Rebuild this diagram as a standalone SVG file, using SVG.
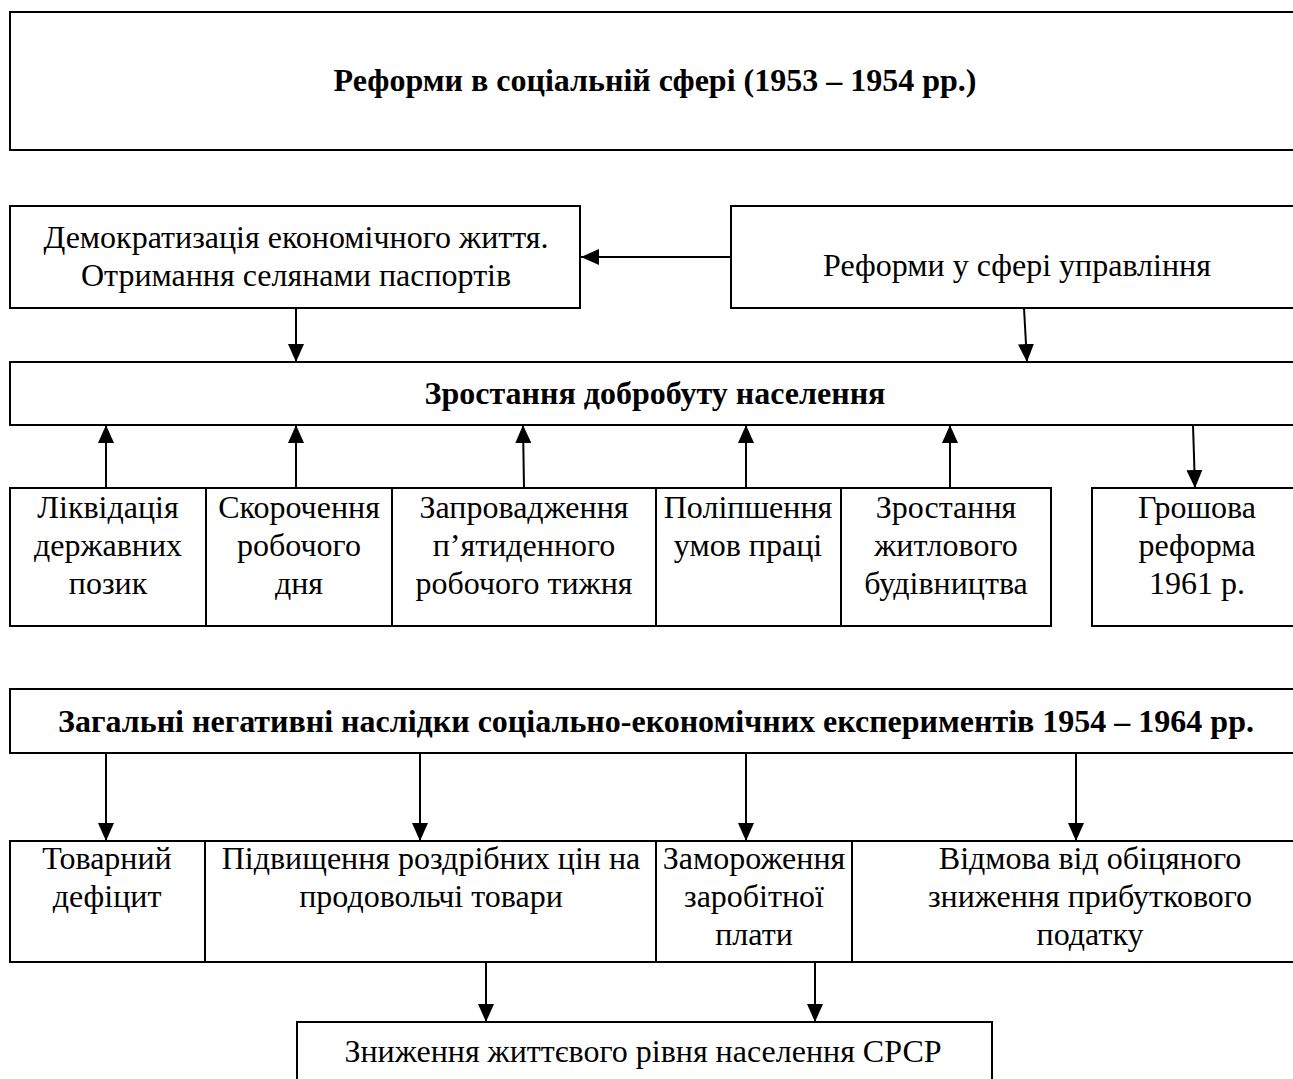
<svg xmlns="http://www.w3.org/2000/svg" width="1293" height="1079" viewBox="0 0 1293 1079">
<style>
  .box { fill: #fff; stroke: #000; stroke-width: 2; }
  .t { font-family: "Liberation Serif", "Times New Roman", serif; font-size: 32px; fill: #000; text-anchor: middle; }
  .b { font-weight: bold; }
  .c { stroke: #000; stroke-width: 2; fill: none; marker-end: url(#ah); }
</style>
<defs>
  <marker id="ah" markerUnits="userSpaceOnUse" markerWidth="18" markerHeight="16" refX="18" refY="8" orient="auto">
    <path d="M0,0 L18,8 L0,16 z" fill="#000"/>
  </marker>
</defs>
<rect width="1293" height="1079" fill="#fff"/>

<g id="n-title">
  <rect class="box" x="10" y="12" width="1300" height="138"/>
  <text class="t b" x="655" y="91">Реформи в соціальній сфері (1953 – 1954 рр.)</text>
</g>
<g id="n-democr">
  <rect class="box" x="10" y="206" width="570" height="102"/>
  <text class="t" x="296" y="248">Демократизація економічного життя.</text>
  <text class="t" x="296" y="286">Отримання селянами паспортів</text>
</g>
<g id="n-upr">
  <rect class="box" x="731" y="206" width="580" height="102"/>
  <text class="t" x="1017" y="276">Реформи у сфері управління</text>
</g>
<g id="n-dobro">
  <rect class="box" x="10" y="362" width="1300" height="63"/>
  <text class="t b" x="655" y="404">Зростання добробуту населення</text>
</g>
<g id="n-likv">
  <rect class="box" x="10" y="488" width="196" height="138"/>
  <text class="t" x="108" y="518">Ліквідація</text>
  <text class="t" x="108" y="556">державних</text>
  <text class="t" x="108" y="594">позик</text>
</g>
<g id="n-skor">
  <rect class="box" x="206" y="488" width="186" height="138"/>
  <text class="t" x="299" y="518">Скорочення</text>
  <text class="t" x="299" y="556">робочого</text>
  <text class="t" x="299" y="594">дня</text>
</g>
<g id="n-zapr">
  <rect class="box" x="392" y="488" width="264" height="138"/>
  <text class="t" x="524" y="518">Запровадження</text>
  <text class="t" x="524" y="556">п’ятиденного</text>
  <text class="t" x="524" y="594">робочого тижня</text>
</g>
<g id="n-polip">
  <rect class="box" x="656" y="488" width="185" height="138"/>
  <text class="t" x="748" y="518">Поліпшення</text>
  <text class="t" x="748" y="556">умов праці</text>
</g>
<g id="n-zhytl">
  <rect class="box" x="841" y="488" width="210" height="138"/>
  <text class="t" x="946" y="518">Зростання</text>
  <text class="t" x="946" y="556">житлового</text>
  <text class="t" x="946" y="594">будівництва</text>
</g>
<g id="n-grosh">
  <rect class="box" x="1092" y="488" width="220" height="138"/>
  <text class="t" x="1197" y="518">Грошова</text>
  <text class="t" x="1197" y="556">реформа</text>
  <text class="t" x="1197" y="594">1961 р.</text>
</g>
<g id="n-negat">
  <rect class="box" x="10" y="689" width="1300" height="64"/>
  <text class="t b" x="656" y="732">Загальні негативні наслідки соціально-економічних експериментів 1954 – 1964 рр.</text>
</g>
<g id="n-tovar">
  <rect class="box" x="10" y="841" width="195" height="121"/>
  <text class="t" x="107" y="869">Товарний</text>
  <text class="t" x="107" y="907">дефіцит</text>
</g>
<g id="n-tsiny">
  <rect class="box" x="205" y="841" width="451" height="121"/>
  <text class="t" x="431" y="869">Підвищення роздрібних цін на</text>
  <text class="t" x="431" y="907">продовольчі товари</text>
</g>
<g id="n-zamor">
  <rect class="box" x="656" y="841" width="196" height="121"/>
  <text class="t" x="754" y="869">Замороження</text>
  <text class="t" x="754" y="907">заробітної</text>
  <text class="t" x="754" y="945">плати</text>
</g>
<g id="n-vidm">
  <rect class="box" x="852" y="841" width="460" height="121"/>
  <text class="t" x="1090" y="869">Відмова від обіцяного</text>
  <text class="t" x="1090" y="907">зниження прибуткового</text>
  <text class="t" x="1090" y="945">податку</text>
</g>
<g id="n-znyzh">
  <rect class="box" x="297" y="1022" width="695" height="80"/>
  <text class="t" x="643" y="1062">Зниження життєвого рівня населення СРСР</text>
</g>

<g id="connectors">
  <line class="c" x1="731" y1="257" x2="581" y2="257"/>
  <line class="c" x1="296" y1="308" x2="296" y2="362"/>
  <line class="c" x1="1024" y1="308" x2="1027" y2="362"/>
  <line class="c" x1="106" y1="488" x2="106" y2="425"/>
  <line class="c" x1="296" y1="488" x2="296" y2="425"/>
  <line class="c" x1="524" y1="488" x2="523" y2="425"/>
  <line class="c" x1="746" y1="488" x2="746" y2="425"/>
  <line class="c" x1="950" y1="488" x2="950" y2="425"/>
  <line class="c" x1="1193" y1="425" x2="1195" y2="488"/>
  <line class="c" x1="106" y1="753" x2="106" y2="841"/>
  <line class="c" x1="420" y1="753" x2="420" y2="841"/>
  <line class="c" x1="746" y1="753" x2="746" y2="841"/>
  <line class="c" x1="1076" y1="753" x2="1076" y2="841"/>
  <line class="c" x1="486" y1="962" x2="486" y2="1022"/>
  <line class="c" x1="815" y1="962" x2="815" y2="1022"/>
</g>
</svg>
